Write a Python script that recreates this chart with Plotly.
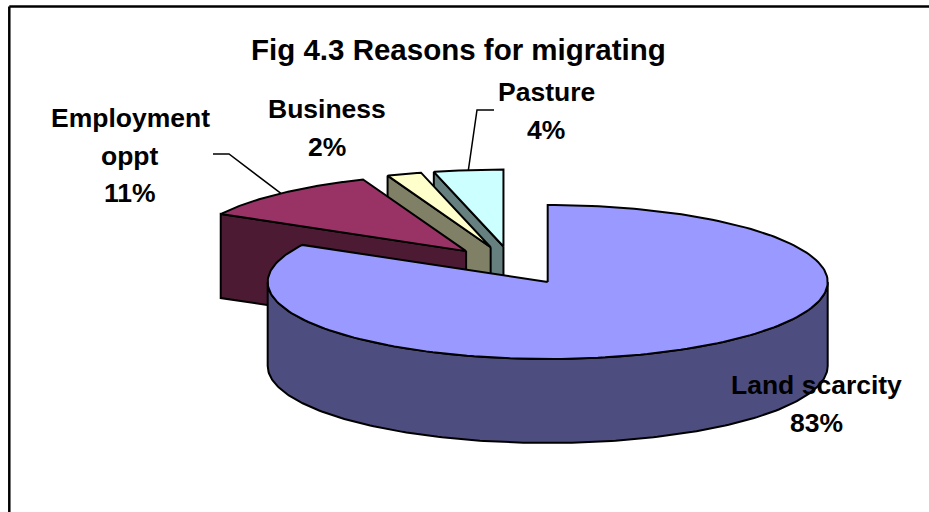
import numpy as np
import plotly.graph_objects as go

# Data
categories = ["Land scarcity", "Employment oppt", "Business", "Pasture"]
values = [83, 11, 2, 4]
label_lines = [["Land scarcity"], ["Employment", "oppt"], ["Business"], ["Pasture"]]
title = "Fig 4.3 Reasons for migrating"

# Styling
top_colors = ["#9999ff", "#993366", "#ffffcc", "#ccffff"]
side_colors = ["#4d4d80", "#4d1a33", "#808066", "#668080"]
FONT = "Liberation Sans"
CX, CY = 512.2, 265.5   # pie centre on the canvas axes
RX, RY = 280, 77        # tilted radii
DEPTH = 84
EXPLODE = 0.249
draw_order = [3, 2, 1, 0]
label_pos = {0: (816, 385), 1: (130, 118), 2: (327, 109), 3: (546, 92)}
LINE_GAP = 37.5
leaders = {1: [(229, 154), (213, 154)], 3: [(477, 110), (494, 110)]}

total = sum(values)
edges = np.cumsum([0] + values) / total * 2 * np.pi


def slice_geom(i):
    a0, a1 = edges[i], edges[i + 1]
    mid = (a0 + a1) / 2
    ox = CX + EXPLODE * RX * np.sin(mid)
    oy = CY - EXPLODE * RY * np.cos(mid)
    return a0, a1, mid, ox, oy


def rim(ox, oy, a):
    return ox + RX * np.sin(a), oy - RY * np.cos(a)


def poly(fig, xs, ys, color):
    fig.add_trace(go.Scatter(
        x=list(xs) + [xs[0]], y=list(ys) + [ys[0]], mode="lines", fill="toself",
        fillcolor=color, line=dict(color="black", width=2), hoverinfo="skip",
        showlegend=False))


fig = go.Figure()

# leader lines sit behind the slices
for i, pts in leaders.items():
    a0, a1, mid, ox, oy = slice_geom(i)
    sx, sy = rim(ox, oy, mid)
    fig.add_trace(go.Scatter(
        x=[sx] + [p[0] for p in pts], y=[sy] + [p[1] for p in pts], mode="lines",
        line=dict(color="black", width=1.5), hoverinfo="skip", showlegend=False))

for i in draw_order:
    a0, a1, mid, ox, oy = slice_geom(i)
    # outer wall, only where the rim faces the viewer
    lo, hi = max(a0, np.pi / 2), min(a1, 3 * np.pi / 2)
    if hi > lo:
        t = np.linspace(lo, hi, 200)
        rx, ry = rim(ox, oy, t)
        poly(fig, np.r_[rx, rx[::-1]], np.r_[ry, ry[::-1] + DEPTH], side_colors[i])
    # cut face that faces the viewer
    if i != 0:
        ex, ey = rim(ox, oy, a0)
        poly(fig, [ox, ex, ex, ox], [oy, ey, ey + DEPTH, oy + DEPTH], side_colors[i])
    # top face
    t = np.linspace(a0, a1, 200)
    rx, ry = rim(ox, oy, t)
    poly(fig, np.r_[ox, rx], np.r_[oy, ry], top_colors[i])

# labels
for i, lines in enumerate(label_lines):
    x, y = label_pos[i]
    for k, text in enumerate(lines + [f"{values[i]}%"]):
        fig.add_annotation(x=x, y=y + k * LINE_GAP, text=f"<b>{text}</b>", showarrow=False,
                           xanchor="center", yanchor="middle",
                           font=dict(family=FONT, size=26.5, color="black"))

fig.add_annotation(x=458, y=49, text=f"<b>{title}</b>", showarrow=False,
                   xanchor="center", yanchor="middle",
                   font=dict(family=FONT, size=29.5, color="black"))

# frame: only the top and left edges are inside the picture
fig.add_shape(type="line", x0=9.3, y0=6.5, x1=929, y1=6.5, line=dict(color="black", width=2.5))
fig.add_shape(type="line", x0=9.3, y0=6.5, x1=9.3, y1=512, line=dict(color="black", width=2.5))

fig.update_xaxes(range=[0, 929], visible=False, fixedrange=True)
fig.update_yaxes(range=[512, 0], visible=False, fixedrange=True)
fig.update_layout(width=929, height=512, margin=dict(l=0, r=0, t=0, b=0),
                  paper_bgcolor="white", plot_bgcolor="white", showlegend=False)
fig.write_html("out.html", config={"displayModeBar": False},
               post_script="document.body.style.margin='0';document.body.style.overflow='hidden';")
